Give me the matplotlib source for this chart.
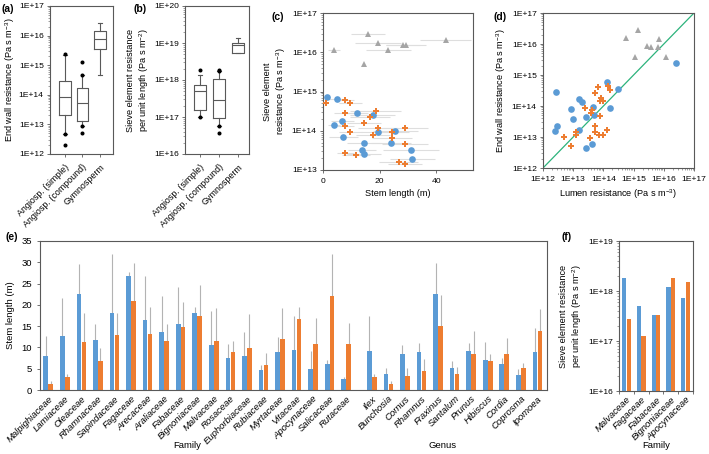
import numpy as np
import matplotlib
matplotlib.use('Agg')
from matplotlib import pyplot as plt
from matplotlib.ticker import LogLocator, FuncFormatter, NullFormatter

plt.rcParams['font.family'] = ['Liberation Sans', 'DejaVu Sans']
plt.rcParams['mathtext.fontset'] = 'custom'
plt.rcParams['mathtext.rm'] = 'Liberation Sans'
plt.rcParams['mathtext.it'] = 'Liberation Sans:italic'
plt.rcParams['axes.edgecolor'] = '#595959'
plt.rcParams['axes.linewidth'] = 0.8
plt.rcParams['xtick.color'] = '#595959'
plt.rcParams['ytick.color'] = '#595959'
plt.rcParams['xtick.labelcolor'] = 'black'
plt.rcParams['ytick.labelcolor'] = 'black'

BLUE = '#5b9bd5'
ORANGE = '#ed7d31'
GRAY = '#a5a5a5'

# ---- (a) end wall resistance boxplots ----
groups = ['Angiosp. (simple)', 'Angiosp. (compound)', 'Gymnosperm']
a_med = [8.3e13, 5.4e13, 7.7e15]
a_q1 = [2.0e13, 1.3e13, 3.5e15]
a_q3 = [3.0e14, 1.7e14, 1.4e16]
a_lo = [4.9e12, 9.0e12, 4.5e14]
a_hi = [2.2e15, 4.5e14, 2.6e16]
a_fliers = [[2.3e15, 4.9e12, 2.0e12], [1.3e15, 4.5e14, 9.0e12, 5.0e12], []]

# ---- (b) sieve element resistance per unit length ----
b_med = [5.1e17, 2.8e17, 9.1e18]
b_q1 = [1.5e17, 9.5e16, 5.5e18]
b_q3 = [7.3e17, 1.05e18, 1.0e19]
b_lo = [1.0e17, 5.6e16, 5.5e18]
b_hi = [1.4e18, 1.7e18, 1.4e19]
b_fliers = [[1.9e18, 1.0e17], [1.85e18, 1.7e18, 5.6e16, 3.7e16], []]

# ---- (c) sieve element resistance vs stem length ----
c_blue_x = [1.5, 5.0, 11.9, 6.8, 3.9, 7.2, 17.5, 19.4, 25.5, 24.0, 14.6, 13.7, 14.6, 31.1, 31.6]
c_blue_y = [7.3e14, 6.6e14, 2.9e14, 1.8e14, 1.4e14, 7.1e13, 2.5e14, 9.1e13, 1.0e14, 5.0e13,
            4.8e13, 3.2e13, 2.6e13, 3.2e13, 1.9e13]
c_blue_xerr = [1, 3, 4, 4, 2, 5, 8, 6, 8, 7, 6, 5, 6, 10, 8]
c_orange_x = [0.9, 7.8, 9.7, 7.8, 7.8, 9.7, 7.8, 11.7, 16.5, 18.7, 14.6, 19.4, 17.5, 24.3,
              24.3, 29.0, 29.0, 26.7, 29.0]
c_orange_y = [5.2e14, 6.2e14, 5.2e14, 2.8e14, 1.3e14, 9.3e13, 2.7e13, 2.4e13, 2.2e14, 3.1e14,
              1.6e14, 1.2e14, 7.8e13, 9.1e13, 6.7e13, 1.2e14, 4.6e13, 1.6e13, 1.4e13]
c_orange_xerr = [1, 3, 4, 4, 3, 4, 3, 5, 7, 9, 6, 7, 6, 6, 7, 8, 8, 7, 6]
c_gray_x = [3.9, 15.8, 19.4, 23.1, 28.1, 29.3, 43.4, 14.6]
c_gray_y = [1.15e16, 3.0e16, 1.7e16, 1.15e16, 1.5e16, 1.5e16, 2.1e16, 4.9e15]
c_gray_xerr = [2, 6, 8, 8, 6, 7, 9, 0]

# ---- (d) end wall vs lumen resistance ----
d_gray_x = [5.5e14, 1.4e15, 1.1e15, 2.8e15, 3.9e15, 6.2e15, 7.2e15, 1.15e16]
d_gray_y = [1.6e16, 2.75e16, 3.9e15, 8.5e15, 7.8e15, 8.1e15, 1.4e16, 3.7e15]
d_blue_x = [2.5e16, 2.6e12, 1.3e14, 3.0e14, 1.6e13, 1.9e13, 8.7e12, 4.6e13, 1.6e14, 1.0e13,
            2.6e13, 4.9e13, 2.8e12, 2.5e12, 1.5e13, 2.7e13, 4.1e13]
d_blue_y = [2.5e15, 2.9e14, 5.9e14, 3.5e14, 1.7e14, 1.3e14, 8.1e13, 9.1e13, 8.9e13, 3.8e13,
            4.4e13, 5.1e13, 2.3e13, 1.6e13, 1.7e13, 4.4e12, 6.0e12]
d_orange_x = [6.6e13, 1.4e14, 1.6e14, 5.1e13, 8.5e13, 1.0e14, 7.6e13, 2.4e13, 4.3e13, 4.0e13,
              7.9e13, 5.2e13, 5.1e13, 7.1e13, 1.0e14, 1.35e14, 3.5e13, 1.2e13, 1.2e13, 5.0e12, 8.7e12]
d_orange_y = [4.2e14, 4.4e14, 3.3e14, 2.6e14, 1.8e14, 1.5e14, 1.4e14, 8.5e13, 7.4e13, 5.9e13,
              4.8e13, 2.2e13, 1.4e13, 1.2e13, 1.15e13, 1.7e13, 9.1e12, 1.5e13, 1.2e13, 9.8e12, 5.0e12]

# ---- (e) stem length by family / genus ----
families = ['Malpighiaceae', 'Lamiaceae', 'Oleaceae', 'Rhamnaceae', 'Sapindaceae', 'Fagaceae',
            'Arecaceae', 'Araliaceae', 'Fabaceae', 'Bignoniaceae', 'Malvaceae', 'Rosaceae',
            'Euphorbiaceae', 'Rubiaceae', 'Myrtaceae', 'Vitaceae', 'Apocynaceae', 'Salicaceae',
            'Rutaceae']
fam_blue = [8.0, 12.7, 22.5, 11.7, 18.0, 26.8, 16.5, 13.7, 15.4, 18.0, 10.6, 7.5, 8.0, 4.7,
            9.0, 9.3, 4.9, 6.0, 2.5]
fam_blue_err = [4.7, 8.8, 7.1, 3.8, 14.0, 1.0, 10.2, 8.3, 8.8, 1.6, 7.9, 3.2, 5.7, 1.2,
                3.5, 8.1, 4.3, 1.0, 0.6]
fam_orange = [1.5, 3.0, 11.3, 6.7, 13.0, 20.8, 13.2, 11.6, 14.8, 17.4, 11.6, 9.0, 9.8, 5.9,
              12.0, 16.7, 10.8, 22.1, 10.8]
fam_orange_err = [0.7, 0.7, 6.7, 3.1, 5.0, 9.0, 6.4, 3.9, 5.8, 7.2, 7.7, 2.6, 8.0, 2.9,
                  7.2, 2.9, 6.0, 9.8, 5.0]
genera = ['Ilex', 'Bunchosia', 'Cornus', 'Rhamnus', 'Fraxinus', 'Santalum', 'Prunus',
          'Hibiscus', 'Cordia', 'Coprosma', 'Ipomoea']
gen_blue = [9.2, 3.8, 8.5, 9.0, 22.6, 5.2, 9.2, 7.0, 6.0, 3.5, 9.0]
gen_blue_err = [8.2, 1.3, 2.1, 2.1, 7.2, 1.7, 1.8, 4.3, 1.4, 1.4, 5.6]
gen_orange = [3.0, 1.4, 3.4, 4.5, 15.0, 3.8, 8.5, 6.9, 8.5, 5.1, 13.8]
gen_orange_err = [0.7, 0.7, 1.7, 2.8, 7.2, 1.7, 5.4, 1.5, 3.6, 1.3, 5.2]

# ---- (f) sieve element resistance per unit length by family ----
f_families = ['Malvaceae', 'Fagaceae', 'Fabaceae', 'Bignoniaceae', 'Apocynaceae']
f_blue = [1.85e18, 4.9e17, 3.3e17, 1.2e18, 7.4e17]
f_orange = [2.7e17, 1.26e17, 3.3e17, 1.8e18, 1.5e18]

fig = plt.figure(figsize=(7.09, 4.54), dpi=100)
W, H = 709.0, 454.0


def add_ax(x0, y0, x1, y1):
    return fig.add_axes([x0 / W, 1 - y1 / H, (x1 - x0) / W, (y1 - y0) / H])


def exp_fmt(v, pos):
    return '1E+%d' % round(np.log10(v))


def log_axis(axis):
    axis.set_major_locator(LogLocator(base=10, numticks=20))
    axis.set_minor_locator(LogLocator(base=10, subs=np.arange(2, 10), numticks=20))
    axis.set_major_formatter(FuncFormatter(exp_fmt))
    axis.set_minor_formatter(NullFormatter())


def boxes(ax, med, q1, q3, lo, hi, fl, pos, width):
    stats = []
    for i in range(len(med)):
        stats.append(dict(med=med[i], q1=q1[i], q3=q3[i], whislo=lo[i], whishi=hi[i], fliers=fl[i]))
    lp = dict(color='#595959', linewidth=0.8)
    ax.bxp(stats, positions=pos, widths=width, boxprops=lp, medianprops=lp, whiskerprops=lp,
           capprops=lp, capwidths=width * 0.3,
           flierprops=dict(marker='o', markersize=1.9, markerfacecolor='black',
                           markeredgecolor='black'))


tfs = 6.1
lfs = 6.6
efs = 6.8

# (a)
ax = add_ax(50, 6, 113, 154)
boxes(ax, a_med, a_q1, a_q3, a_lo, a_hi, a_fliers, [1, 2, 3], 0.65)
ax.set_yscale('log')
ax.set_ylim(1e12, 1e17)
log_axis(ax.yaxis)
ax.set_xlim(0.15, 3.75)
ax.set_xticks([1, 2, 3])
ax.set_xticklabels(groups, rotation=45, ha='right', rotation_mode='anchor', fontsize=6.4)
ax.tick_params(axis='y', labelsize=tfs, length=2.5, width=0.6, pad=2)
ax.tick_params(axis='y', which='minor', length=1.5, width=0.4)
ax.tick_params(axis='x', length=2.5, width=0.6)
ax.set_ylabel(r'End wall resistance (Pa s m$^{-3}$)', fontsize=lfs, labelpad=1.5)

# (b)
ax = add_ax(185, 6, 249, 154)
boxes(ax, b_med, b_q1, b_q3, b_lo, b_hi, b_fliers, [1, 2, 3], 0.6)
ax.set_yscale('log')
ax.set_ylim(1e16, 1e20)
log_axis(ax.yaxis)
ax.set_xlim(0.21, 3.58)
ax.set_xticks([1, 2, 3])
ax.set_xticklabels(groups, rotation=45, ha='right', rotation_mode='anchor', fontsize=6.4)
ax.tick_params(axis='y', labelsize=tfs, length=2.5, width=0.6, pad=2)
ax.tick_params(axis='y', which='minor', length=1.5, width=0.4)
ax.tick_params(axis='x', length=2.5, width=0.6)
ax.set_ylabel('Sieve element resistance\n' + r'per unit length (Pa s m$^{-2}$)', fontsize=lfs,
              labelpad=2)

# (c)
ax = add_ax(323, 13, 473, 170)
for xx, yy, ee in [(c_gray_x, c_gray_y, c_gray_xerr), (c_blue_x, c_blue_y, c_blue_xerr),
                   (c_orange_x, c_orange_y, c_orange_xerr)]:
    ax.errorbar(xx, yy, xerr=ee, fmt='none', ecolor='#dedede', elinewidth=0.8, zorder=1)
ax.plot(c_gray_x, c_gray_y, '^', color=GRAY, markersize=4.2, markeredgewidth=0, zorder=3)
ax.plot(c_blue_x, c_blue_y, 'o', color=BLUE, markersize=4.8, markeredgewidth=0, zorder=3)
ax.plot(c_orange_x, c_orange_y, 'P', color=ORANGE, markersize=4.8, markeredgewidth=0, zorder=3)
ax.set_yscale('log')
ax.set_ylim(1e13, 1e17)
ax.yaxis.set_major_locator(LogLocator(base=10, numticks=20))
ax.yaxis.set_major_formatter(FuncFormatter(exp_fmt))
ax.yaxis.set_minor_locator(LogLocator(base=10, subs=np.arange(2, 10), numticks=20))
ax.yaxis.set_minor_formatter(NullFormatter())
ax.set_xlim(0, 53)
ax.set_xticks([0, 20, 40])
ax.tick_params(labelsize=tfs, length=2.5, width=0.6)
ax.tick_params(axis='y', pad=2)
ax.tick_params(which='minor', length=1.5, width=0.4)
ax.set_xlabel('Stem length (m)', fontsize=lfs, labelpad=3)
ax.set_ylabel('Sieve element\n' + r'resistance (Pa s m$^{-3}$)', fontsize=lfs, labelpad=3)

# (d)
ax = add_ax(543, 13, 694, 168)
ax.plot([1e12, 1e17], [1e12, 1e17], color='#2cb37c', linewidth=0.9, zorder=1)
ax.plot(d_gray_x, d_gray_y, '^', color=GRAY, markersize=4.2, markeredgewidth=0, zorder=3)
ax.plot(d_blue_x, d_blue_y, 'o', color=BLUE, markersize=4.8, markeredgewidth=0, zorder=3)
ax.plot(d_orange_x, d_orange_y, 'P', color=ORANGE, markersize=4.8, markeredgewidth=0, zorder=3)
ax.set_xscale('log')
ax.set_yscale('log')
ax.set_xlim(1e12, 1e17)
ax.set_ylim(1e12, 1e17)
log_axis(ax.xaxis)
log_axis(ax.yaxis)
ax.tick_params(labelsize=tfs, length=2.5, width=0.6)
ax.tick_params(axis='y', pad=2)
ax.tick_params(which='minor', length=1.5, width=0.4)
ax.set_xlabel(r'Lumen resistance (Pa s m$^{-3}$)', fontsize=lfs, labelpad=3)
ax.set_ylabel(r'End wall resistance (Pa s m$^{-3}$)', fontsize=lfs, labelpad=3)

# (e)
ax = add_ax(40, 241, 547, 390)
xf = np.arange(len(families))
xg = len(families) + 0.55 + np.arange(len(genera))
xs = np.concatenate([xf, xg])
blue_v = fam_blue + gen_blue
orange_v = fam_orange + gen_orange
blue_e = fam_blue_err + gen_blue_err
orange_e = fam_orange_err + gen_orange_err
bw = 0.28
off = 0.15
ax.bar(xs - off, blue_v, width=bw, color=BLUE, zorder=2)
ax.bar(xs + off, orange_v, width=bw, color=ORANGE, zorder=2)
ax.errorbar(xs - off, blue_v, yerr=[np.zeros(len(xs)), blue_e], fmt='none', ecolor='#b3b3b3',
            elinewidth=0.8, capsize=0, zorder=1)
ax.errorbar(xs + off, orange_v, yerr=[np.zeros(len(xs)), orange_e], fmt='none',
            ecolor='#b3b3b3', elinewidth=0.8, capsize=0, zorder=1)
ax.set_xlim(-0.5, xg[-1] + 0.58)
ax.set_ylim(0, 35)
ax.set_yticks(np.arange(0, 36, 5))
ax.set_xticks(xs)
ax.set_xticklabels(families + genera, rotation=45, ha='right', rotation_mode='anchor',
                   fontsize=efs, style='italic')
ax.tick_params(axis='x', length=0, pad=3)
ax.tick_params(axis='y', labelsize=efs, length=2.5, width=0.6)
ax.set_ylabel('Stem length (m)', fontsize=efs, labelpad=4)
fig.text(187 / W, 1 - 446 / H, 'Family', fontsize=efs, ha='center', va='center')
fig.text(443 / W, 1 - 446 / H, 'Genus', fontsize=efs, ha='center', va='center')

# (f)
ax = add_ax(619, 241, 693, 391)
xp = np.arange(len(f_families))
ax.bar(xp - 0.16, f_blue, width=0.28, color=BLUE)
ax.bar(xp + 0.16, f_orange, width=0.28, color=ORANGE)
ax.set_yscale('log')
ax.set_ylim(1e16, 1e19)
log_axis(ax.yaxis)
ax.set_xlim(-0.5, len(f_families) - 0.5)
ax.set_xticks(xp)
ax.set_xticks(np.arange(-0.5, len(f_families), 1.0), minor=True)
ax.set_xticklabels(f_families, rotation=45, ha='right', rotation_mode='anchor', fontsize=efs,
                   style='italic')
ax.tick_params(axis='x', which='major', length=0, pad=3)
ax.tick_params(axis='x', which='minor', length=2.5, width=0.6)
ax.tick_params(axis='y', labelsize=tfs, length=2.5, width=0.6, pad=2)
ax.tick_params(axis='y', which='minor', length=1.5, width=0.4)
ax.set_ylabel('Sieve element resistance\n' + r'per unit length (Pa s m$^{-2}$)', fontsize=lfs,
              labelpad=3)
fig.text(656 / W, 1 - 446 / H, 'Family', fontsize=efs, ha='center', va='center')

# panel letters
for lab, px, py in [('(a)', 2, 9), ('(b)', 133, 9), ('(c)', 272, 17), ('(d)', 493, 17),
                    ('(e)', 5, 237), ('(f)', 562, 237)]:
    fig.text(px / W, 1 - py / H, lab, fontsize=7.5, fontweight='bold', ha='left', va='center')

fig.savefig('out.png', dpi=100)
